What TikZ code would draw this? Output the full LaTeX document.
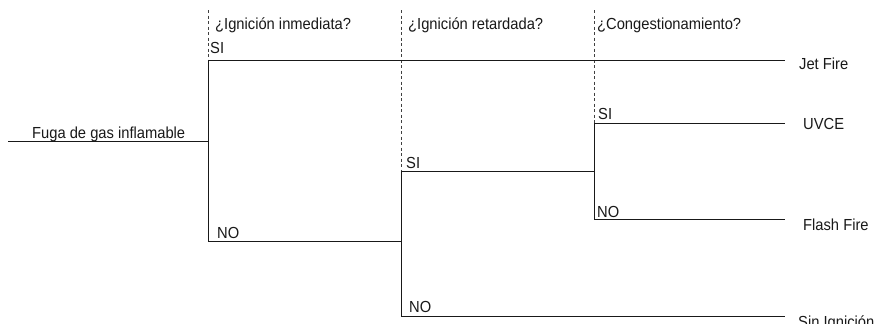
\documentclass[tikz,border=0pt]{standalone}
\usepackage{fontspec}
\setmainfont{Liberation Sans}
\begin{document}
\begin{tikzpicture}[x=1pt,y=-1pt,
  branch/.style={line width=0.9pt,color=black!90},
  guide/.style={line width=0.8pt,color=black!75,dash pattern=on 3pt off 2.5pt},
  lbl/.style={inner sep=0pt,anchor=base west,xscale=0.92,font=\fontsize{16}{18}\selectfont,text=black!90}]
\useasboundingbox (0,0) rectangle (884,324);
% junction coordinates
\coordinate (s0) at (8,141);
\coordinate (j1) at (208,141);
\coordinate (j1t) at (208,60);
\coordinate (j1b) at (208,241);
\coordinate (j2) at (401,241);
\coordinate (j2t) at (401,171);
\coordinate (j2b) at (401,316);
\coordinate (j3) at (594,171);
\coordinate (j3t) at (594,123);
\coordinate (j3b) at (594,219);
\coordinate (e1) at (785,60);
\coordinate (e2) at (785,123);
\coordinate (e3) at (785,219);
\coordinate (e4) at (785,316);
\coordinate (g1) at (208,10);
\coordinate (g2) at (401,10);
\coordinate (g3) at (594,10);
% guides
\draw[guide] (g1) -- (j1t);
\draw[guide] (g2) -- (j2t);
\draw[guide] (g3) -- (j3t);
% branches
\draw[branch] (s0) -- (j1);
\draw[branch] (j1t) -- (j1b);
\draw[branch] (j1t) -- (e1);
\draw[branch] (j1b) -- (j2);
\draw[branch] (j2t) -- (j2b);
\draw[branch] (j2t) -- (j3);
\draw[branch] (j2b) -- (e4);
\draw[branch] (j3t) -- (j3b);
\draw[branch] (j3t) -- (e2);
\draw[branch] (j3b) -- (e3);
% labels
\node[lbl] (start) at (32,138) {Fuga de gas inflamable};
\node[lbl] (h1) at (215,29.5) {¿Ignición inmediata?};
\node[lbl] (h2) at (408,29.5) {¿Ignición retardada?};
\node[lbl] (h3) at (597,29.5) {¿Congestionamiento?};
\node[lbl] (si1) at (210,53) {SI};
\node[lbl] (no1) at (217,238) {NO};
\node[lbl] (si2) at (406,168) {SI};
\node[lbl] (no2) at (409,312) {NO};
\node[lbl] (si3) at (598,119) {SI};
\node[lbl] (no3) at (597,217) {NO};
\node[lbl] (o1) at (799,69.5) {Jet Fire};
\node[lbl] (o2) at (803,129) {UVCE};
\node[lbl] (o3) at (803,230) {Flash Fire};
\node[lbl] (o4) at (798,327) {Sin Ignición};
\end{tikzpicture}
\end{document}
